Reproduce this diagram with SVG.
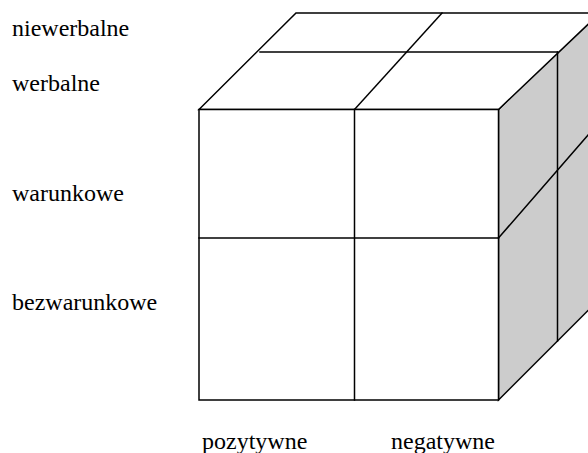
<svg xmlns="http://www.w3.org/2000/svg" width="588" height="453" viewBox="0 0 588 453">
<style>
.ln{stroke:#000;stroke-width:1.5;fill:none;stroke-linecap:square}
.face{fill:#fff;stroke:#000;stroke-width:1.5}
.side{fill:#cccccc;stroke:#000;stroke-width:1.5}
.lbl{font-family:"Liberation Serif","Times New Roman",serif;font-size:24px;fill:#000}
</style>
<rect width="588" height="453" fill="#fff"/>
<g id="cube">
<polygon id="right-face" class="side" points="498.5,109.5 600,8 600,298.5 498.5,400"/>
<polygon id="top-face" class="face" points="199,109.5 296,13 600,13 498.5,109.5"/>
<rect id="front-face" class="face" x="199" y="109.5" width="299.5" height="290.5"/>
</g>
<g id="connectors">
<line class="ln" x1="354.5" y1="109.5" x2="442" y2="13"/>
<line class="ln" x1="260" y1="52" x2="557.5" y2="52"/>
<line class="ln" x1="557.5" y1="52" x2="557.5" y2="341"/>
<line class="ln" x1="498.5" y1="238" x2="588" y2="135"/>
<line class="ln" x1="354.5" y1="109.5" x2="354.5" y2="400"/>
<line class="ln" x1="199" y1="238" x2="498.5" y2="238"/>
</g>
<g id="labels">
<text id="t1" class="lbl" x="12" y="36">niewerbalne</text>
<text id="t2" class="lbl" x="12" y="91">werbalne</text>
<text id="t3" class="lbl" x="12" y="201">warunkowe</text>
<text id="t4" class="lbl" x="12" y="310">bezwarunkowe</text>
<text id="t5" class="lbl" x="202" y="449">pozytywne</text>
<text id="t6" class="lbl" x="391" y="449">negatywne</text>
</g>
</svg>
